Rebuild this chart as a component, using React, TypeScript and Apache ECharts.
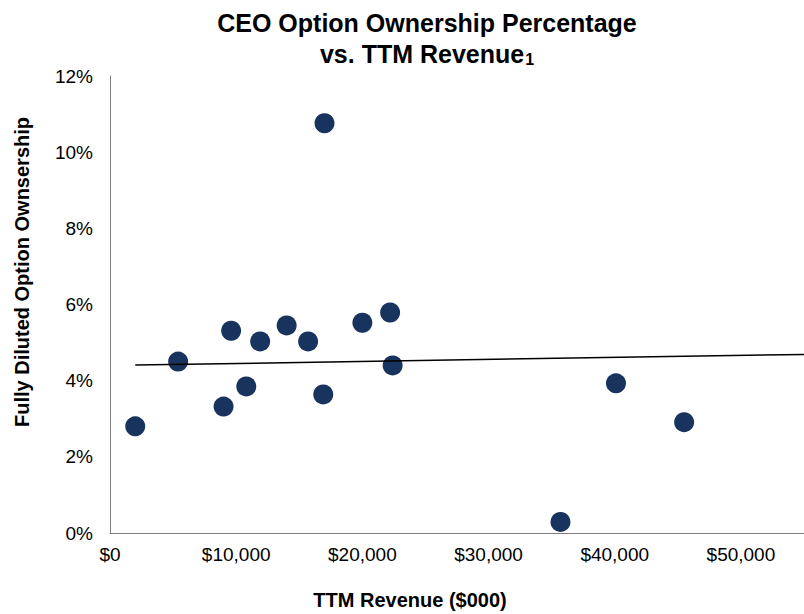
import React, { useEffect, useRef } from "react";
import * as echarts from "echarts";

const revenue = [2000, 5400, 9000, 9600, 10800, 11900, 14000, 15700, 16900, 17000, 20000, 22200, 22400, 35700, 40100, 45500];
const ownership = [2.8, 4.5, 3.32, 5.31, 3.85, 5.03, 5.45, 5.03, 3.64, 10.76, 5.52, 5.79, 4.4, 0.29, 3.93, 2.91];
const trendX = [2000, 55000];
const trendY = [4.41, 4.69];
const xTicks = [0, 10000, 20000, 30000, 40000, 50000];

const FONT = "Liberation Sans, Arial, sans-serif";

export default function App() {
  const ref = useRef<HTMLDivElement>(null);
  useEffect(() => {
    document.body.style.margin = "0";
    if (!ref.current) return;
    const chart = echarts.init(ref.current, undefined, { renderer: "svg" });
    chart.setOption({
      animation: false,
      backgroundColor: "#ffffff",
      textStyle: { fontFamily: FONT },
      title: {
        text: "CEO Option Ownership Percentage\nvs. TTM Revenue{s|1}",
        left: 422,
        top: 2,
        textAlign: "center",
        textStyle: {
          fontFamily: FONT,
          fontSize: 25,
          fontWeight: "bold",
          color: "#000",
          lineHeight: 31,
          rich: {
            s: { fontFamily: FONT, fontSize: 16, fontWeight: "bold", color: "#000", lineHeight: 31, padding: [12, 0, 0, 1] },
          },
        },
      },
      grid: { left: 110, right: 0, top: 76, bottom: 81, containLabel: false },
      xAxis: {
        type: "value",
        min: 0,
        max: 55000,
        interval: 10000,
        axisLine: { show: true, lineStyle: { color: "#7f7f7f", width: 1 } },
        axisTick: { show: false },
        splitLine: { show: false },
        axisLabel: {
          fontFamily: FONT,
          fontSize: 19,
          color: "#000",
          margin: 12,
          showMaxLabel: false,
          formatter: (v: number) => (xTicks.includes(v) ? "$" + v.toLocaleString("en-US") : ""),
        },
      },
      yAxis: {
        type: "value",
        min: 0,
        max: 12,
        interval: 2,
        axisLine: { show: true, lineStyle: { color: "#7f7f7f", width: 1 } },
        axisTick: { show: false },
        splitLine: { show: false },
        axisLabel: {
          fontFamily: FONT,
          fontSize: 19,
          color: "#000",
          margin: 17,
          formatter: (v: number) => v + "%",
        },
      },
      graphic: [
        {
          type: "text",
          x: 22,
          y: 272,
          rotation: Math.PI / 2,
          style: {
            text: "Fully Diluted Option Ownsership",
            fontFamily: FONT,
            fontSize: 20,
            fontWeight: "bold",
            fill: "#000",
            align: "center",
            verticalAlign: "middle",
          },
        },
        {
          type: "text",
          x: 410,
          y: 600,
          style: {
            text: "TTM Revenue ($000)",
            fontFamily: FONT,
            fontSize: 20,
            fontWeight: "bold",
            fill: "#000",
            align: "center",
            verticalAlign: "middle",
          },
        },
      ],
      series: [
        {
          type: "line",
          data: trendX.map((x, i) => [x, trendY[i]]),
          symbol: "none",
          lineStyle: { color: "#000", width: 1.5 },
          silent: true,
          z: 3,
        },
        {
          type: "scatter",
          data: revenue.map((x, i) => [x, ownership[i]]),
          symbol: "circle",
          symbolSize: 20,
          itemStyle: { color: "#17335E", opacity: 1 },
          z: 2,
        },
      ],
    });
    return () => chart.dispose();
  }, []);
  return <div ref={ref} style={{ width: 804, height: 614 }} />;
}
